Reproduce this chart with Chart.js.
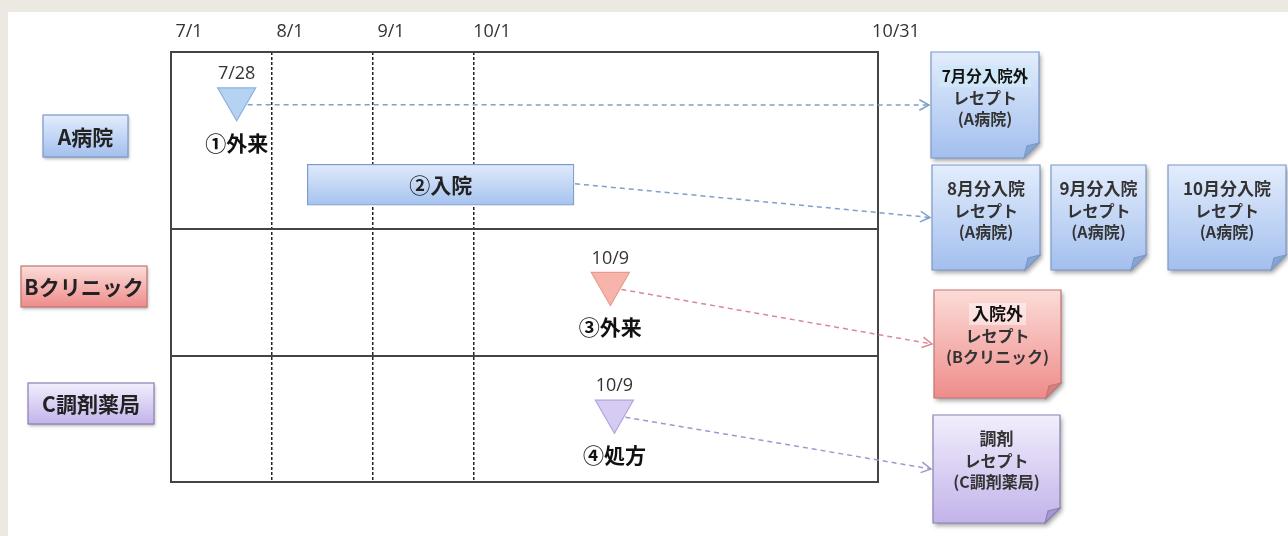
<!DOCTYPE html>
<html lang="ja">
<head>
<meta charset="utf-8">
<title>レセプトの流れ</title>
<script src="https://cdn.jsdelivr.net/npm/chart.js@4.4.1/dist/chart.umd.min.js"></script>
<style>
  html, body { margin: 0; padding: 0; background: #ece9e3; }
  #wrap { width: 1288px; height: 536px; }
</style>
</head>
<body>
<div id="wrap"><canvas id="grafico"></canvas></div>
<script>
// x軸は月の区切り単位（7/1=0, 8/1=1, 9/1=2, 10/1=3, 10/31=7）
const tickPos = [0, 1, 2, 3, 7];
const tickLabels = ['7/1', '8/1', '9/1', '10/1', '10/31'];
// y軸の行の境界（C=0〜1, B=1〜2, A=2〜3.4）
const rowEdges = [0, 1, 2, 3.4];
const rowNames = ['A病院', 'Bクリニック', 'C調剤薬局'];

const eventDates = ['7/28', '10/9', '10/9'];
const eventNames = ['①外来', '③外来', '④処方'];
const eventX = [0.65, 4.35, 4.39];
const eventY = [3.03, 1.57, 0.56];

const stayName = '②入院';
const stayRange = [1.35, 3.99];
const stayY = 2.35;

const docTexts = [
  ['7月分入院外', 'レセプト', '(A病院)'],
  ['8月分入院', 'レセプト', '(A病院)'],
  ['9月分入院', 'レセプト', '(A病院)'],
  ['10月分入院', 'レセプト', '(A病院)'],
  ['入院外', 'レセプト', '(Bクリニック)'],
  ['調剤', 'レセプト', '(C調剤薬局)']
];

const JP = '"Noto Sans CJK JP", "Noto Sans", sans-serif';

const themes = {
  blue:   { top: '#e3edfc', bottom: '#a3bfee', border: '#7b98c9', fold: '#86a4d6', line: '#7f9fcc', mark: '#b6d2f2', markBorder: '#8cb2e0' },
  red:    { top: '#fcdcd8', bottom: '#ee8c8a', border: '#c27575', fold: '#d5807f', line: '#d98a95', mark: '#f7b4ab', markBorder: '#e89a8f' },
  purple: { top: '#f2eefc', bottom: '#c2b3ea', border: '#8a80b2', fold: '#a598d2', line: '#a497cc', mark: '#d5cbf3', markBorder: '#b1a4dd' }
};
const eventThemes = ['blue', 'red', 'purple'];

// 配置（位置・大きさ）
const rowBoxes = [
  { x: 43, y: 115, w: 85, h: 42, t: 'blue' },
  { x: 21, y: 266, w: 126, h: 41, t: 'red' },
  { x: 28, y: 383, w: 126, h: 41, t: 'purple' }
];
const docBoxes = [
  { dx: 53, dy: 0, w: 108, h: 106, t: 'blue', hl: '#cfe7f7', f1: 15.5 },
  { dx: 54, dy: 113, w: 108, h: 105, t: 'blue' },
  { dx: 173, dy: 113, w: 95, h: 105, t: 'blue' },
  { dx: 290, dy: 113, w: 118, h: 105, t: 'blue' },
  { dx: 56, dy: 238, w: 127, h: 108, t: 'red', hl: 'rgba(255,255,255,0.45)' },
  { dx: 55, dy: 363, w: 127, h: 108, t: 'purple' }
];
const arrows = [
  { src: 'ev', i: 0, doc: 0, t: 'blue' },
  { src: 'bar', doc: 1, t: 'blue' },
  { src: 'ev', i: 1, doc: 4, t: 'red' },
  { src: 'ev', i: 2, doc: 5, t: 'purple' }
];

function shape(ctx, x, y, w, h, c) {
  ctx.beginPath();
  ctx.moveTo(x, y);
  ctx.lineTo(x + w, y);
  ctx.lineTo(x + w, y + h - c);
  ctx.lineTo(x + w - c, y + h);
  ctx.lineTo(x, y + h);
  ctx.closePath();
}

function drawDoc(ctx, d, lines) {
  const th = themes[d.t];
  const c = 15;
  ctx.save();
  ctx.shadowColor = 'rgba(0,0,0,0.35)';
  ctx.shadowBlur = 4;
  ctx.shadowOffsetX = 2;
  ctx.shadowOffsetY = 3;
  const g = ctx.createLinearGradient(0, d.y, 0, d.y + d.h);
  g.addColorStop(0, th.top);
  g.addColorStop(1, th.bottom);
  shape(ctx, d.x, d.y, d.w, d.h, c);
  ctx.fillStyle = g;
  ctx.fill();
  ctx.shadowColor = 'transparent';
  ctx.strokeStyle = th.border;
  ctx.lineWidth = 1.2;
  ctx.stroke();
  // 折り返し
  ctx.beginPath();
  ctx.moveTo(d.x + d.w, d.y + d.h - c);
  ctx.lineTo(d.x + d.w - c, d.y + d.h);
  ctx.lineTo(d.x + d.w - c * 0.8, d.y + d.h - c * 0.8);
  ctx.closePath();
  ctx.fillStyle = th.fold;
  ctx.fill();
  ctx.stroke();

  const cx = d.x + d.w / 2;
  const offs = [24, 46, 67];
  const sizes = [17, 16, 16];
  ctx.textAlign = 'center';
  ctx.textBaseline = 'middle';
  lines.forEach((s, k) => {
    ctx.font = 'bold ' + (k === 0 && d.f1 ? d.f1 : sizes[k]) + 'px ' + JP;
    if (k === 0 && d.hl) {
      const tw = ctx.measureText(s).width;
      ctx.fillStyle = d.hl;
      ctx.fillRect(cx - tw / 2 - 3, d.y + offs[k] - 11, tw + 6, 22);
    }
    ctx.fillStyle = k === 0 && d.hl ? '#111' : '#333';
    ctx.fillText(s, cx, d.y + offs[k]);
  });
  ctx.restore();
}

function drawRowBox(ctx, b, text) {
  const th = themes[b.t];
  ctx.save();
  ctx.shadowColor = 'rgba(0,0,0,0.3)';
  ctx.shadowBlur = 3;
  ctx.shadowOffsetX = 1;
  ctx.shadowOffsetY = 2;
  const g = ctx.createLinearGradient(0, b.y, 0, b.y + b.h);
  g.addColorStop(0, th.top);
  g.addColorStop(1, th.bottom);
  ctx.fillStyle = g;
  ctx.fillRect(b.x, b.y, b.w, b.h);
  ctx.shadowColor = 'transparent';
  ctx.strokeStyle = th.border;
  ctx.lineWidth = 1.2;
  ctx.strokeRect(b.x, b.y, b.w, b.h);
  ctx.font = 'bold 21px ' + JP;
  ctx.fillStyle = '#222';
  ctx.textAlign = 'center';
  ctx.textBaseline = 'middle';
  ctx.fillText(text, b.x + b.w / 2, b.y + b.h / 2 + 1);
  ctx.restore();
}

function drawArrow(ctx, sx, sy, ex, ey, color) {
  ctx.save();
  ctx.strokeStyle = color;
  ctx.lineWidth = 1.5;
  ctx.setLineDash([5, 4]);
  ctx.beginPath();
  ctx.moveTo(sx, sy);
  ctx.lineTo(ex, ey);
  ctx.stroke();
  ctx.setLineDash([]);
  const a = Math.atan2(ey - sy, ex - sx);
  ctx.beginPath();
  ctx.moveTo(ex - 11 * Math.cos(a - 0.5), ey - 11 * Math.sin(a - 0.5));
  ctx.lineTo(ex, ey);
  ctx.lineTo(ex - 11 * Math.cos(a + 0.5), ey - 11 * Math.sin(a + 0.5));
  ctx.stroke();
  ctx.restore();
}

const decor = {
  id: 'decor',
  beforeDraw(chart) {
    const { ctx, width, height } = chart;
    ctx.save();
    ctx.fillStyle = '#ece9e3';
    ctx.fillRect(0, 0, width, height);
    ctx.fillStyle = '#ffffff';
    ctx.fillRect(8, 12, width - 8, height - 12);
    ctx.restore();
  },
  beforeDatasetsDraw(chart) {
    const { ctx, chartArea: a } = chart;
    ctx.save();
    ctx.strokeStyle = '#444';
    ctx.lineWidth = 2;
    ctx.strokeRect(a.left, a.top, a.right - a.left, a.bottom - a.top);
    ctx.restore();
  },
  afterDatasetsDraw(chart) {
    const { ctx, chartArea: a } = chart;
    const pts = chart.getDatasetMeta(0).data;
    const bar = chart.getDatasetMeta(1).data[0];

    ctx.save();
    ctx.textAlign = 'center';
    ctx.textBaseline = 'middle';
    // 入院バーのラベル
    ctx.font = 'bold 21px ' + JP;
    ctx.fillStyle = '#222';
    ctx.fillText(stayName, (bar.x + bar.base) / 2, bar.y);
    // 日付と受診名
    pts.forEach((p, i) => {
      ctx.font = '18px "Open Sans", sans-serif';
      ctx.fillStyle = '#333';
      ctx.fillText(eventDates[i], p.x, p.y - 25);
      ctx.font = 'bold 21px ' + JP;
      ctx.fillStyle = '#111';
      ctx.fillText(eventNames[i], p.x, p.y + 44);
    });
    ctx.restore();

    const docs = docBoxes.map(d => ({ ...d, x: a.right + d.dx, y: a.top + d.dy }));
    arrows.forEach(ar => {
      let sx, sy;
      if (ar.src === 'bar') {
        sx = bar.x + 1; sy = bar.y - 1;
      } else {
        sx = pts[ar.i].x + 11; sy = pts[ar.i].y + 6;
      }
      const d = docs[ar.doc];
      drawArrow(ctx, sx, sy, d.x - 2, d.y + d.h / 2, themes[ar.t].line);
    });
    docs.forEach((d, i) => drawDoc(ctx, d, docTexts[i]));
    rowBoxes.forEach((b, i) => drawRowBox(ctx, b, rowNames[i]));
  }
};

const grafico = document.getElementById('grafico');
const ctx = grafico.getContext('2d');

const myChart = new Chart(ctx, {
  type: 'scatter',
  data: {
    datasets: [{
      label: '受診',
      data: eventX.map((x, i) => ({ x: x, y: eventY[i] })),
      pointStyle: 'triangle',
      rotation: 180,
      radius: 22,
      hoverRadius: 22,
      borderWidth: 1.2,
      backgroundColor: eventThemes.map(t => themes[t].mark),
      borderColor: eventThemes.map(t => themes[t].markBorder)
    }, {
      type: 'bar',
      label: '入院',
      indexAxis: 'y',
      data: [{ x: stayRange, y: stayY }],
      barThickness: 41,
      borderSkipped: false,
      borderWidth: 1.2,
      borderColor: '#7b98c9',
      backgroundColor: (c) => {
        const chart = c.chart;
        if (!chart.chartArea) return '#bcd3f4';
        const yp = chart.scales.y.getPixelForValue(stayY);
        const g = chart.ctx.createLinearGradient(0, yp - 20, 0, yp + 20);
        g.addColorStop(0, '#dfeafb');
        g.addColorStop(1, '#a6c3ef');
        return g;
      }
    }]
  },
  options: {
    responsive: true,
    maintainAspectRatio: false,
    animation: false,
    layout: { padding: { left: 171, right: 410, top: 12, bottom: 54 } },
    plugins: {
      legend: { display: false },
      tooltip: { enabled: false }
    },
    scales: {
      x: {
        type: 'linear',
        position: 'top',
        offset: false,
        min: 0,
        max: 7,
        afterBuildTicks: (scale) => { scale.ticks = tickPos.map(v => ({ value: v })); },
        afterFit: (scale) => { scale.height = 40; },
        ticks: {
          autoSkip: false,
          maxRotation: 0,
          padding: 9,
          labelOffset: 18,
          color: '#333',
          font: { family: '"Open Sans", sans-serif', size: 18 },
          callback: (v, i) => tickLabels[i]
        },
        grid: {
          offset: false,
          drawTicks: false,
          lineWidth: 1.5,
          color: (c) => (c.tick && c.tick.value > 0 && c.tick.value < 7) ? '#222' : 'rgba(0,0,0,0)'
        },
        border: { display: false, dash: [3, 2] }
      },
      y: {
        type: 'linear',
        offset: false,
        min: 0,
        max: 3.4,
        afterBuildTicks: (scale) => { scale.ticks = rowEdges.map(v => ({ value: v })); },
        afterFit: (scale) => { scale.width = 0; },
        ticks: { display: false },
        grid: { offset: false, drawTicks: false, color: '#444', lineWidth: 2 },
        border: { display: false }
      }
    }
  },
  plugins: [decor]
});
</script>
</body>
</html>
